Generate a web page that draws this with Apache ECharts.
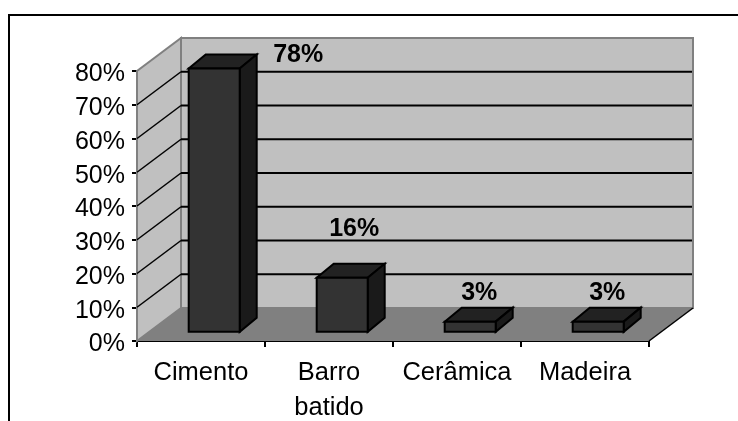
<!DOCTYPE html>
<html>
<head>
<meta charset="utf-8">
<style>html,body{margin:0;padding:0;background:#fff}#chart{width:738px;height:421px}</style>
<script src="https://cdn.jsdelivr.net/npm/echarts@6/dist/echarts.min.js"></script>
</head>
<body>
<div id="chart"></div>
<script>
const categories = ['Cimento', 'Barro\nbatido', 'Cerâmica', 'Madeira'];
const shares = [78, 16, 3, 3];
const gridTicks = [10, 20, 30, 40, 50, 60, 70, 80];

// Pseudo-3D depth of the walls and of the bars, in pixels
const WALL_DX = 44, WALL_DY = -33;
const BAR_DX = 17, BAR_DY = -14;
const BAR_W = 51;
const FONT = '"Liberation Sans", Arial, sans-serif';
// Hand-placed offsets of the value labels from the bar's front-top centre
const LABEL_NUDGE = [[84, -13], [12, -49], [9, -29], [9, -29]];

const chart = echarts.init(document.getElementById('chart'), null, {renderer: 'canvas'});

function poly(points, fill, stroke, lineWidth) {
  return {type: 'polygon', shape: {points}, style: {fill, stroke: stroke || null, lineWidth: lineWidth || 0}};
}
function line(a, b, stroke, lineWidth) {
  return {type: 'line', shape: {x1: a[0], y1: a[1], x2: b[0], y2: b[1]}, style: {stroke, lineWidth}};
}

function renderWalls(params, api) {
  const o = api.coord([0, 0]);
  const xEnd = params.coordSys.x + params.coordSys.width;
  const x0 = params.coordSys.x;
  const y0 = o[1];
  const top = api.coord([0, 80])[1];
  const kids = [
    poly([[x0, y0], [x0 + WALL_DX, y0 + WALL_DY], [x0 + WALL_DX, top + WALL_DY], [x0, top]], '#c0c0c0', '#808080', 2),
    poly([[x0 + WALL_DX, y0 + WALL_DY], [xEnd + WALL_DX, y0 + WALL_DY], [xEnd + WALL_DX, top + WALL_DY], [x0 + WALL_DX, top + WALL_DY]], '#c0c0c0', '#808080', 2),
    poly([[x0, y0], [xEnd, y0], [xEnd + WALL_DX, y0 + WALL_DY], [x0 + WALL_DX, y0 + WALL_DY]], '#808080')
  ];
  gridTicks.forEach(function (t) {
    const y = api.coord([0, t])[1];
    if (t < 80) kids.push(line([x0 + WALL_DX, y + WALL_DY], [xEnd + WALL_DX - 1, y + WALL_DY], '#000', 2));
    if (t < 80) kids.push(line([x0, y], [x0 + WALL_DX, y + WALL_DY], '#000', 1.5));
  });
  kids.push(line([xEnd, y0], [xEnd + WALL_DX, y0 + WALL_DY], '#000', 1.5));
  return {type: 'group', children: kids};
}

function renderBar(params, api) {
  const i = api.value(0);
  const base = api.coord([i, 0]);
  const head = api.coord([i, api.value(1)]);
  const cx = base[0] + WALL_DX * 0.3;
  const yb = base[1] + WALL_DY * 0.28;
  const yt = head[1] + WALL_DY * 0.28;
  const l = cx - BAR_W / 2, r = cx + BAR_W / 2;
  const nudge = LABEL_NUDGE[params.dataIndex];
  return {type: 'group', children: [
    poly([[l, yt], [r, yt], [r + BAR_DX, yt + BAR_DY], [l + BAR_DX, yt + BAR_DY]], '#222222', '#000', 2),
    poly([[r, yt], [r + BAR_DX, yt + BAR_DY], [r + BAR_DX, yb + BAR_DY], [r, yb]], '#1a1a1a', '#000', 2),
    poly([[l, yt], [r, yt], [r, yb], [l, yb]], '#333333', '#000', 2),
    {type: 'text', style: {
      x: cx + nudge[0], y: yt + nudge[1], text: api.value(1) + '%',
      font: 'bold 25px ' + FONT, fill: '#000', align: 'center', verticalAlign: 'middle'
    }}
  ]};
}

chart.setOption({
  animation: false,
  backgroundColor: '#fff',
  graphic: [
    {type: 'line', shape: {x1: 9, y1: 15, x2: 738, y2: 15}, style: {stroke: '#000', lineWidth: 2}, z: 0},
    {type: 'line', shape: {x1: 9, y1: 14, x2: 9, y2: 421}, style: {stroke: '#000', lineWidth: 2}, z: 0}
  ],
  grid: {left: 137, top: 71, width: 512, height: 270, outerBoundsMode: 'none'},
  xAxis: {
    type: 'category', data: categories, boundaryGap: true,
    axisLine: {show: true, lineStyle: {color: '#000', width: 2}},
    axisTick: {show: true, alignWithLabel: false, length: 6, lineStyle: {color: '#000', width: 2}},
    axisLabel: {color: '#000', fontSize: 25.5, fontFamily: FONT, margin: 14, lineHeight: 35, interval: 0}
  },
  yAxis: {
    type: 'value', min: 0, max: 80, interval: 10,
    axisLine: {show: true, lineStyle: {color: '#000', width: 2}},
    axisTick: {show: true, length: 5, lineStyle: {color: '#000', width: 2}},
    splitLine: {show: false},
    axisLabel: {color: '#000', fontSize: 25, fontFamily: FONT, margin: 12, verticalAlign: 'top', padding: [-9, 0, 0, 0], formatter: '{value}%'}
  },
  series: [
    {type: 'custom', renderItem: renderWalls, data: [[0, 0]], silent: true, z: 1, clip: false},
    {type: 'custom', renderItem: renderBar, data: shares.map((v, i) => [i, v]), silent: true, z: 2, clip: false,
     encode: {x: 0, y: 1}}
  ]
});
</script>
</body>
</html>
